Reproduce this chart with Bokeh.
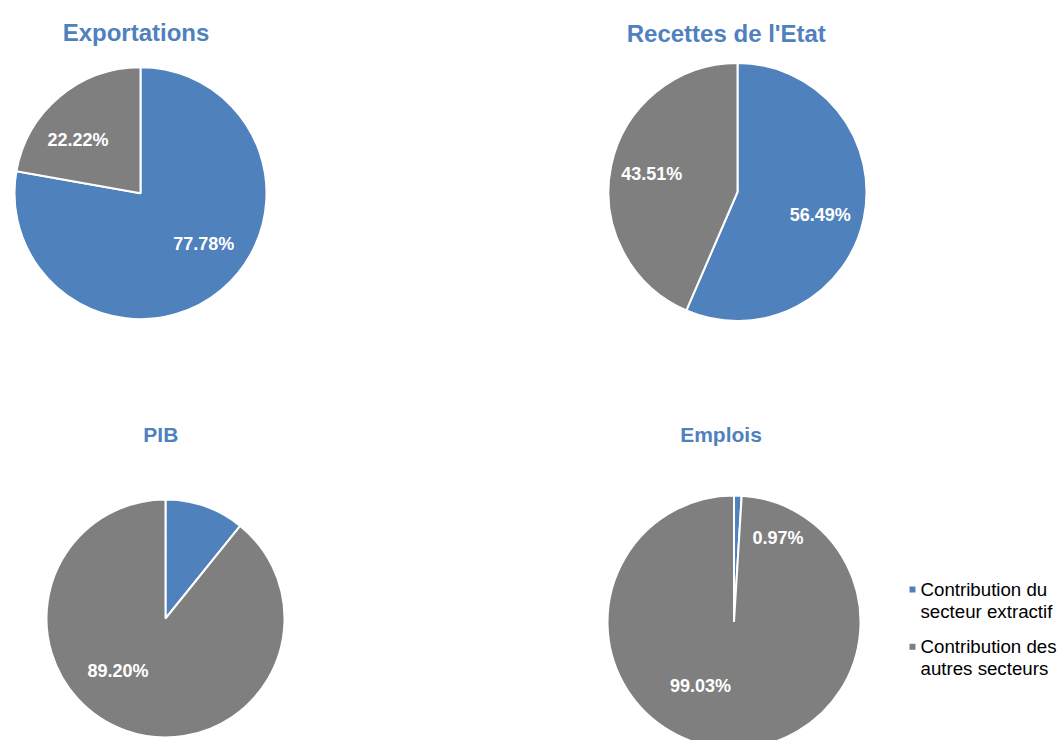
import math
from bokeh.plotting import figure
from bokeh.models import Range1d, ColumnDataSource
from bokeh.core.properties import value
from bokeh.embed import file_html
from bokeh.resources import INLINE

# ---------------- data ----------------
titles = ["Exportations", "Recettes de l'Etat", "PIB", "Emplois"]
extractif = [77.78, 56.49, 10.80, 0.97]      # Contribution du secteur extractif (%)
autres = [22.22, 43.51, 89.20, 99.03]        # Contribution des autres secteurs (%)
show_extractif_label = [True, True, False, True]
legend_labels = [["Contribution du", "secteur extractif"],
                 ["Contribution des", "autres secteurs"]]

# ---------------- layout / style (image pixel coordinates) ----------------
BLUE = "#4F81BD"
GREY = "#7F7F7F"
FONT = "Liberation Sans"
centers = [(140, 192.7), (737, 191.5), (165, 618), (733.5, 621.5)]
radii = [126, 129, 119, 126.5]
# title centre positions (cap-height centre)
title_pos = [(135.5, 32.3, 24), (725.8, 32.5, 24), (160.3, 433.5, 21), (720.5, 433.5, 21)]
label_offsets = [[(63.3, 50.3), (-62.5, -53)],
                 [(82.7, 22.7), (-85.7, -18.5)],
                 [(0, 0), (-47.5, 52.3)],
                 [(44, -84.5), (-33.5, 63.5)]]
LABEL_FS = 18
legend_marker = [(912, 589), (912, 646.3)]
legend_text_x = 920
legend_centers = [[589, 611], [646.3, 668]]
LEGEND_FS = 18.7

W, H = 1059, 740
def Y(iy):
    return 740 - iy

p = figure(width=W, height=H, x_range=Range1d(0, W), y_range=Range1d(740 - H, 740),
           output_backend="svg", toolbar_location=None, x_axis_type=None, y_axis_type=None,
           min_border=0, outline_line_color=None)
p.grid.visible = False
p.background_fill_color = "white"
p.border_fill_color = "white"

wx, wy, wr, ws, we, wc = [], [], [], [], [], []
lx, ly, lt = [], [], []
for i in range(len(titles)):
    cx, cy = centers[i]
    r = radii[i]
    f = extractif[i] / 100.0
    a0 = math.pi / 2
    a1 = a0 - 2 * math.pi * f
    a2 = a0 - 2 * math.pi * (extractif[i] + autres[i]) / 100.0
    # blue slice then grey slice, clockwise from 12 o'clock
    wx += [cx, cx]; wy += [Y(cy), Y(cy)]; wr += [r, r]
    ws += [a0, a1]; we += [a1, a2]; wc += [BLUE, GREY]
    vals = [extractif[i], autres[i]]
    shows = [show_extractif_label[i], True]
    for k in range(2):
        if not shows[k]:
            continue
        dx, dy = label_offsets[i][k]
        lx.append(cx + dx)
        ly.append(Y(cy + dy))
        lt.append(f"{vals[k]:.2f}%")

src = ColumnDataSource(dict(x=wx, y=wy, r=wr, s=ws, e=we, c=wc))
p.wedge(x="x", y="y", radius="r", start_angle="s", end_angle="e", direction="clock",
        fill_color="c", line_color="white", line_width=2, source=src)

p.text(x=lx, y=ly, text=lt, text_font=value(FONT), text_font_style="bold",
       text_font_size=f"{LABEL_FS}px", text_color="white", text_align="center",
       text_baseline="middle")

for i, t in enumerate(titles):
    tx, ty, fs = title_pos[i]
    p.text(x=[tx], y=[Y(ty)], text=[t], text_font=value(FONT), text_font_style="bold",
           text_font_size=f"{fs}px", text_color=BLUE, text_align="center",
           text_baseline="middle")

# legend
colors = [BLUE, GREY]
for k in range(2):
    mx, my = legend_marker[k]
    p.rect(x=[mx], y=[Y(my)], width=6, height=6, fill_color=colors[k], line_color=None)
    for j, line in enumerate(legend_labels[k]):
        p.text(x=[legend_text_x], y=[Y(legend_centers[k][j])], text=[line],
               text_font=value(FONT), text_font_size=f"{LEGEND_FS}px", text_color="#000000",
               text_align="left", text_baseline="middle")

open("out.html", "w").write(file_html(p, INLINE))
